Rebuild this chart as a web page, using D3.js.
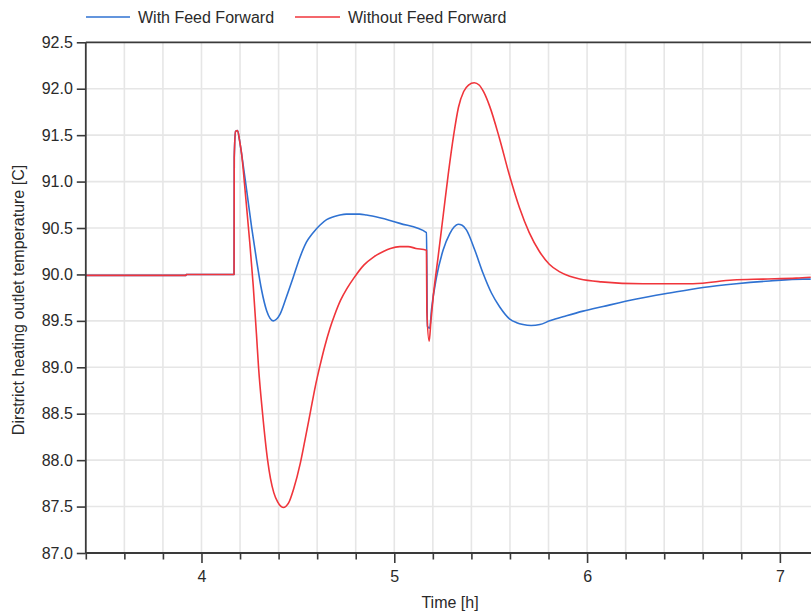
<!DOCTYPE html>
<html>
<head>
<meta charset="utf-8">
<script src="https://cdn.jsdelivr.net/npm/d3@7"></script>
<style>
  html, body { margin: 0; padding: 0; background: #ffffff; }
  svg { display: block; font-family: "Liberation Sans", Arial, sans-serif; }
</style>
</head>
<body>
<svg id="chart" width="811" height="613"></svg>
<script>
// Outlet temperature response, with and without feed forward control
const seriesNames = ["With Feed Forward", "Without Feed Forward"];
const seriesColors = ["#2f72d2", "#f0353b"];

const timeWithFF = [3.4, 3.92, 3.921, 4.169, 4.17, 4.177, 4.187, 4.197, 4.208, 4.234, 4.26, 4.286, 4.312, 4.338,
  4.355, 4.372, 4.39, 4.407, 4.441, 4.476, 4.51, 4.545, 4.579, 4.614, 4.649, 4.685, 4.718, 4.752, 4.787, 4.82,
  4.856, 4.925, 5.029, 5.167, 5.172, 5.184, 5.193, 5.219, 5.253, 5.288, 5.31, 5.331, 5.352, 5.374, 5.418, 5.461,
  5.504, 5.547, 5.599, 5.635, 5.668, 5.71, 5.755, 5.806, 5.893, 5.979, 6.083, 6.256, 6.428, 6.601, 6.774, 6.947,
  7.119, 7.16];
const tempWithFF = [89.99, 89.99, 90.0, 90.0, 91.26, 91.54, 91.55, 91.45, 91.3, 90.91, 90.51, 90.15, 89.83, 89.61,
  89.53, 89.5, 89.52, 89.57, 89.76, 89.97, 90.18, 90.35, 90.45, 90.53, 90.59, 90.62, 90.64, 90.65, 90.65, 90.65,
  90.64, 90.61, 90.55, 90.45, 89.44, 89.42, 89.62, 89.97, 90.26, 90.44, 90.51, 90.54, 90.53, 90.48, 90.26, 90.01,
  89.8, 89.65, 89.52, 89.48, 89.46, 89.45, 89.46, 89.5, 89.555, 89.605, 89.655, 89.735, 89.8, 89.86, 89.9, 89.93,
  89.95, 89.95];

const timeWithoutFF = [3.4, 3.92, 3.921, 4.169, 4.17, 4.177, 4.187, 4.197, 4.208, 4.229, 4.251, 4.268, 4.286, 4.296,
  4.317, 4.343, 4.358, 4.375, 4.395, 4.424, 4.452, 4.478, 4.513, 4.539, 4.565, 4.59, 4.615, 4.64, 4.665, 4.69,
  4.721, 4.755, 4.79, 4.842, 4.894, 4.946, 4.98, 5.029, 5.072, 5.112, 5.167, 5.169, 5.181, 5.19, 5.203, 5.228,
  5.254, 5.28, 5.308, 5.333, 5.36, 5.385, 5.415, 5.44, 5.465, 5.495, 5.545, 5.597, 5.649, 5.7, 5.752, 5.804,
  5.856, 5.91, 5.962, 6.074, 6.29, 6.549, 6.757, 6.912, 7.085, 7.16];
const tempWithoutFF = [89.99, 89.99, 90.0, 90.0, 91.26, 91.54, 91.55, 91.45, 91.3, 90.84, 90.33, 89.89, 89.33, 89.0,
  88.5, 88.0, 87.8, 87.65, 87.55, 87.49, 87.54, 87.69, 87.97, 88.24, 88.52, 88.79, 89.02, 89.23, 89.41, 89.56,
  89.72, 89.85, 89.96, 90.1, 90.19, 90.25, 90.28, 90.3, 90.3, 90.28, 90.26, 89.6, 89.28, 89.5, 89.78, 90.2,
  90.64, 91.08, 91.5, 91.8, 91.97, 92.04, 92.065, 92.04, 91.96, 91.81, 91.47, 91.07, 90.72, 90.45, 90.25, 90.11,
  90.03, 89.98, 89.95, 89.92, 89.9, 89.9, 89.94, 89.95, 89.96, 89.97];

// Axis ticks
const xTicks = d3.range(17, 36).map(i => i / 5);      // every 0.2 h
const xLabelTicks = [4, 5, 6, 7];
const yTicks = d3.range(0, 12).map(i => 87 + i * 0.5); // 87.0 .. 92.5

const xDomain = [3.4, 7.16];
const yDomain = [87.0, 92.5];

const xTitle = "Time [h]";
const yTitle = "Dirstrict heating outlet temperature [C]";

// ---- layout
const svg = d3.select("#chart");
const plotLeft = 85.8, plotRight = 811, plotTop = 42.3, plotBottom = 553;

const x = d3.scaleLinear().domain(xDomain).range([plotLeft, plotLeft + (xDomain[1] - xDomain[0]) * 192.8]);
const y = d3.scaleLinear().domain(yDomain).range([plotBottom, plotTop]);

const gridColor = "#e6e6e6";
const axisColor = "#3a3a3a";
const textColor = "#2a2a2a";

// grid
const grid = svg.append("g");
grid.selectAll("line.v").data(xTicks.filter(t => t > xDomain[0] + 1e-9)).join("line")
  .attr("class", "v")
  .attr("x1", d => x(d)).attr("x2", d => x(d))
  .attr("y1", plotTop).attr("y2", plotBottom)
  .attr("stroke", gridColor).attr("stroke-width", 1.6);
grid.selectAll("line.h").data(yTicks.filter(v => v > yDomain[0] && v < yDomain[1])).join("line")
  .attr("class", "h")
  .attr("x1", plotLeft).attr("x2", plotRight)
  .attr("y1", d => y(d)).attr("y2", d => y(d))
  .attr("stroke", gridColor).attr("stroke-width", 1.6);

// clip for the curves
svg.append("clipPath").attr("id", "plot-clip")
  .append("rect").attr("x", plotLeft).attr("y", plotTop - 2)
  .attr("width", plotRight - plotLeft).attr("height", plotBottom - plotTop + 4);

const line = d3.line().curve(d3.curveMonotoneX).x(d => x(d[0])).y(d => y(d[1]));

const series = [
  d3.zip(timeWithFF, tempWithFF),
  d3.zip(timeWithoutFF, tempWithoutFF)
];

const curves = svg.append("g").attr("clip-path", "url(#plot-clip)");
curves.selectAll("path").data(series).join("path")
  .attr("d", d => line(d))
  .attr("fill", "none")
  .attr("stroke", (d, i) => seriesColors[i])
  .attr("stroke-width", 1.6)
  .attr("stroke-linejoin", "round");

// axes
const isWhole = d => Math.abs(d - Math.round(d)) < 1e-6;
const xAxis = d3.axisBottom(x).tickValues(xTicks)
  .tickSize(0).tickFormat(d => isWhole(d) && xLabelTicks.includes(Math.round(d)) ? d3.format("d")(d) : "");
const gx = svg.append("g").attr("transform", `translate(0,${plotBottom})`).call(xAxis);
gx.select(".domain").remove();
gx.selectAll(".tick line").remove();
gx.selectAll(".tick").append("line")
  .attr("y1", 0)
  .attr("y2", d => isWhole(d) ? 10 : 6.5)
  .attr("stroke", axisColor).attr("stroke-width", 1.6);
gx.selectAll(".tick text")
  .attr("y", 29).attr("dy", 0)
  .attr("font-size", 16).attr("fill", textColor)
  .attr("font-family", "'Liberation Sans', Arial, sans-serif");

const yAxis = d3.axisLeft(y).tickValues(yTicks).tickSize(9).tickPadding(4).tickFormat(d3.format(".1f"));
const gy = svg.append("g").attr("transform", `translate(${plotLeft},0)`).call(yAxis);
gy.select(".domain").remove();
gy.selectAll(".tick line").attr("stroke", axisColor).attr("stroke-width", 1.6);
gy.selectAll(".tick text")
  .attr("font-size", 16).attr("fill", textColor)
  .attr("font-family", "'Liberation Sans', Arial, sans-serif");

// frame lines: left, bottom, top
const frame = svg.append("g").attr("stroke", axisColor).attr("stroke-width", 1.8);
frame.append("line").attr("x1", plotLeft).attr("x2", plotLeft).attr("y1", plotTop).attr("y2", plotBottom);
frame.append("line").attr("x1", plotLeft).attr("x2", plotRight).attr("y1", plotBottom).attr("y2", plotBottom);
frame.append("line").attr("x1", plotLeft).attr("x2", plotRight).attr("y1", plotTop).attr("y2", plotTop);

// axis titles
svg.append("text")
  .attr("x", 450).attr("y", 608)
  .attr("text-anchor", "middle")
  .attr("font-size", 16).attr("fill", textColor)
  .text(xTitle);

svg.append("text")
  .attr("transform", "translate(24,300) rotate(-90)")
  .attr("text-anchor", "middle")
  .attr("font-size", 16).attr("fill", textColor)
  .text(yTitle);

// legend
const legendItems = [
  { x1: 86, x2: 130, tx: 138 },
  { x1: 295, x2: 340, tx: 348 }
];
const legend = svg.append("g");
legendItems.forEach((it, i) => {
  legend.append("line")
    .attr("x1", it.x1).attr("x2", it.x2).attr("y1", 17).attr("y2", 17)
    .attr("stroke", seriesColors[i]).attr("stroke-width", 1.5);
  legend.append("text")
    .attr("x", it.tx).attr("y", 23)
    .attr("font-size", 16).attr("fill", textColor)
    .text(seriesNames[i]);
});
</script>
</body>
</html>
